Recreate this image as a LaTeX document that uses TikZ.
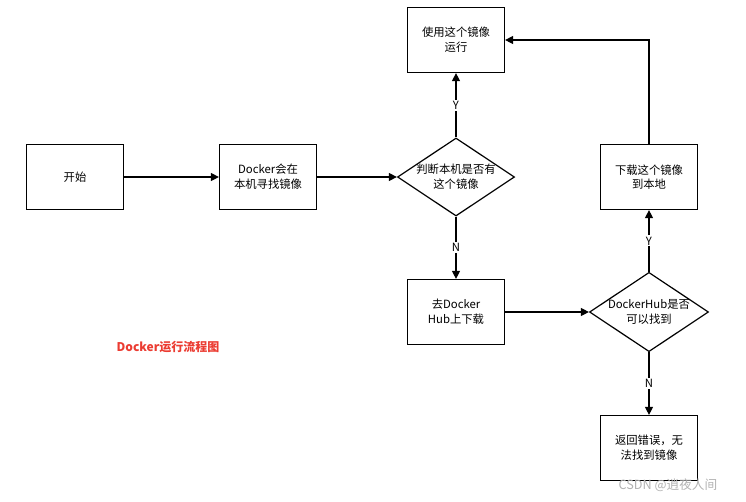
\documentclass[tikz,border=0pt]{standalone}
\usepackage{fontspec}
\setmainfont{Noto Sans CJK SC}
\usetikzlibrary{shapes.geometric,arrows.meta}
\begin{document}
\begin{tikzpicture}[x=0.75pt,y=-0.75pt,
  box/.style={draw,line width=0.9pt,minimum width=72.75pt,minimum height=48.75pt,align=center,font=\fontsize{8.5}{11}\selectfont,inner sep=1pt},
  dia/.style={draw,line width=0.9pt,diamond,minimum width=87.75pt,minimum height=58pt,aspect=1.5,align=center,font=\fontsize{8.5}{11}\selectfont,inner sep=0pt},
  arr/.style={draw,line width=0.9pt,-{Triangle[length=6pt,width=6pt]}},
  lab/.style={fill=white,font=\fontsize{8.5}{10}\selectfont,inner sep=1pt}]
\useasboundingbox (0,0) rectangle (746,501);
\node[box] (start) at (75,177) {开始};
\node[box] (find) at (268,177) {Docker会在\\本机寻找镜像};
\node[dia] (local) at (456,177) {判断本机是否有\\这个镜像};
\node[box] (run) at (456,40) {使用这个镜像\\运行};
\node[box] (hub) at (456,312) {去Docker\\Hub上下载};
\node[dia] (canfind) at (649,312) {DockerHub是否\\可以找到};
\node[box] (dl) at (649,177) {下载这个镜像\\到本地};
\node[box] (err) at (649,448) {返回错误，无\\法找到镜像};
\node[font=\bfseries\fontsize{9}{10}\selectfont,text={rgb,255:red,235;green,60;blue,50}] (title) at (168,347) {Docker运行流程图};
\node[text=gray!60,font=\fontsize{9.5}{10}\selectfont] (wm) at (668,485) {CSDN @逍夜人间};
\draw[arr] (start) -- (find);
\draw[arr] (find) -- (local);
\draw[arr] (local) -- node[lab]{Y} (run);
\draw[arr] (local) -- node[lab]{N} (hub);
\draw[arr] (hub) -- (canfind);
\draw[arr] (canfind) -- node[lab]{Y} (dl);
\draw[arr] (canfind) -- node[lab]{N} (err);
\draw[arr] (dl.north) |- (run.east);
\end{tikzpicture}
\end{document}
